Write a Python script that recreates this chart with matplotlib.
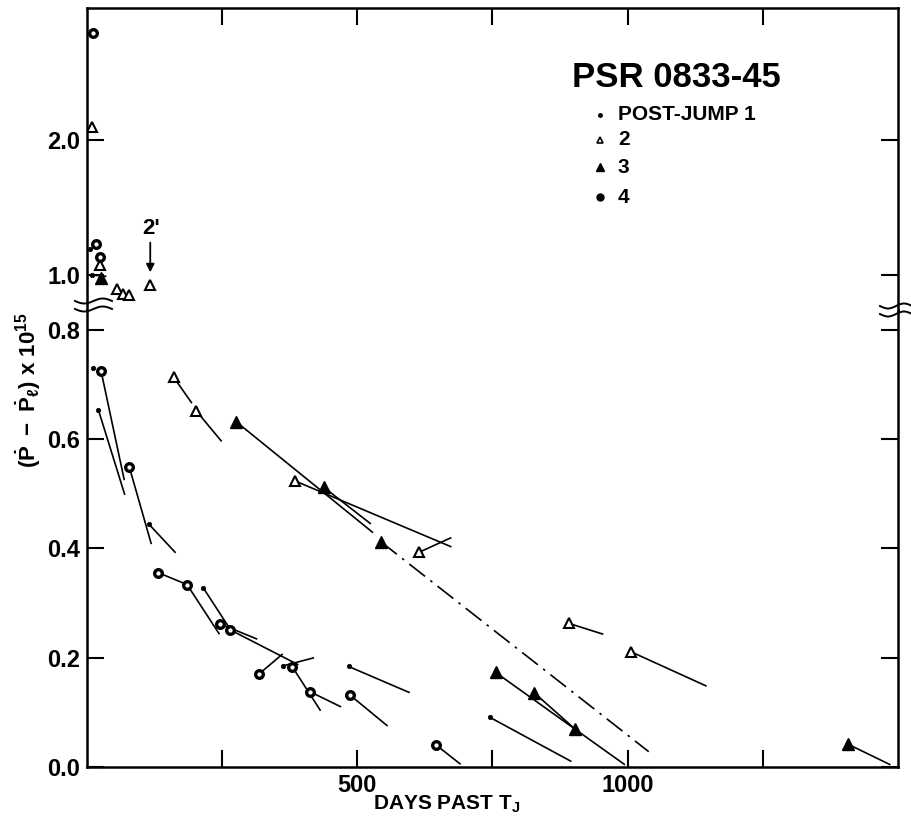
import numpy as np
import matplotlib.pyplot as plt
from matplotlib.lines import Line2D

plt.rcParams['font.family'] = ['Liberation Sans', 'DejaVu Sans']
plt.rcParams['font.weight'] = 'bold'
plt.rcParams['mathtext.fontset'] = 'custom'
plt.rcParams['mathtext.rm'] = 'Liberation Sans:bold'
plt.rcParams['mathtext.it'] = 'Liberation Sans:bold'
plt.rcParams['mathtext.bf'] = 'Liberation Sans:bold'

nan = np.nan

# --- data: days past T_J, (Pdot - Pdot_l) x 1e15, end of fitted slope segment ---
# post-jump 1 (small dots)
j1_x = [10, 6, 10.5, 21, 114, 215, 362, 484, 745]
j1_y = [1.00, 1.19, 0.730, 0.654, 0.445, 0.328, 0.185, 0.184, 0.091]
j1_x_end = [36, nan, nan, 70, 164, 265, 420, 597, 896]
j1_y_end = [0.99, nan, nan, 0.498, 0.392, 0.252, 0.200, 0.136, 0.010]

# post-jump 2 (open triangles)
j2_x = [9, 24, 56, 66, 78, 117, 160, 202, 384, 614, 891, 1006]
j2_y = [2.099, 1.075, 0.894, 0.859, 0.850, 0.926, 0.714, 0.652, 0.524, 0.393, 0.263, 0.211]
j2_x_end = [nan, nan, nan, nan, nan, nan, 194, 249, 674, 674, 955, 1146]
j2_y_end = [nan, nan, nan, nan, nan, nan, 0.666, 0.596, 0.403, 0.420, 0.243, 0.148]

# post-jump 3 (filled triangles)
j3_x = [26, 276, 438, 544, 756, 827, 902, 1407]
j3_y = [0.975, 0.632, 0.512, 0.412, 0.173, 0.136, 0.070, 0.042]
j3_x_end = [nan, 529, 525, nan, 995, 902, nan, 1486]
j3_y_end = [nan, 0.429, 0.445, nan, 0.004, 0.070, nan, 0.004]

# post-jump 3 extrapolation (dash-dot)
j3_extrap_x = [544, 1039]
j3_extrap_y = [0.412, 0.028]

# post-jump 4 (circles)
j4_x = [10.5, 17, 24, 26, 78, 131, 185, 246, 265, 319, 380, 412, 486, 646]
j4_y = [2.795, 1.23, 1.13, 0.725, 0.550, 0.356, 0.334, 0.262, 0.251, 0.171, 0.183, 0.138, 0.132, 0.040]
j4_x_end = [nan, nan, nan, 69, 119, 185, 245, 315, 391, 362, 432, 470, 556, 691]
j4_y_end = [nan, nan, nan, 0.525, 0.408, 0.334, 0.243, 0.234, 0.187, 0.207, 0.103, 0.110, 0.075, 0.005]

# the 2' point
jump2p_x = 117
jump2p_y = 0.926

Y_BREAK = 0.8

styles = {
    'j1': dict(marker='o', ms=3.2, mfc='black', mec='black', mew=0.5),
    'j2': dict(marker='^', ms=6.5, mfc='white', mec='black', mew=1.5),
    'j3': dict(marker='^', ms=8.5, mfc='black', mec='black', mew=1.0),
    'j4': dict(marker='o', ms=5.5, mfc='white', mec='black', mew=2.4),
}
series = [
    ('j1', j1_x, j1_y, j1_x_end, j1_y_end),
    ('j2', j2_x, j2_y, j2_x_end, j2_y_end),
    ('j3', j3_x, j3_y, j3_x_end, j3_y_end),
    ('j4', j4_x, j4_y, j4_x_end, j4_y_end),
]

W, H = 912, 823
fig = plt.figure(figsize=(W / 100, H / 100), dpi=100)
L = 87 / W
AW = (898 - 87) / W
ax_lo = fig.add_axes([L, 1 - 767 / H, AW, (767 - 310) / H])
ax_hi = fig.add_axes([L, 1 - 310 / H, AW, (310 - 8) / H], sharex=ax_lo)

for ax in (ax_lo, ax_hi):
    for name, xs, ys, xe, ye in series:
        xs, ys, xe, ye = map(np.asarray, (xs, ys, xe, ye))
        for a, b, c, d in zip(xs, ys, xe, ye):
            if not np.isnan(c):
                ax.plot([a, c], [b, d], color='black', lw=1.2, solid_capstyle='butt', zorder=2)
        if ax is ax_hi:
            m = ys >= Y_BREAK
        else:
            m = ys < Y_BREAK
        ax.plot(xs[m], ys[m], ls='none', zorder=3, **styles[name])
    for s in ax.spines.values():
        s.set_linewidth(1.8)

ax_lo.plot(j3_extrap_x, j3_extrap_y, color='black', lw=1.2,
           ls=(0, (12, 4, 1.5, 4)), zorder=2)

tick_font = dict(fontsize=17, fontweight='bold')

ax_lo.set_xlim(0, 1500)
ax_lo.set_ylim(0, 0.8366)
ax_hi.set_ylim(0.741, 2.978)

ax_lo.set_xticks([250, 500, 750, 1000, 1250])
ax_lo.set_xticklabels(['', '500', '', '1000', ''], **tick_font)
ax_lo.set_yticks([0.0, 0.2, 0.4, 0.6, 0.8])
ax_lo.set_yticklabels(['0.0', '0.2', '0.4', '0.6', '0.8'], **tick_font)
ax_lo.tick_params(axis='both', direction='in', length=12, width=1.5,
                  right=True, top=False, pad=5)
ax_lo.spines['top'].set_visible(False)

ax_hi.set_yticks([1.0, 2.0])
ax_hi.set_yticklabels(['1.0', '2.0'], **tick_font)
ax_hi.tick_params(axis='both', direction='in', length=12, width=1.5,
                  right=True, top=True, bottom=False, labelbottom=False, pad=5)
ax_hi.spines['bottom'].set_visible(False)

# 2' marker label with arrow
ax_hi.annotate('', xy=(jump2p_x, 1.02), xytext=(jump2p_x, 1.24),
               arrowprops=dict(arrowstyle='-|>', color='black', lw=1.3,
                               mutation_scale=12, shrinkA=0, shrinkB=0))
ax_hi.text(jump2p_x + 2, 1.27, "2'", fontsize=16, fontweight='bold',
           ha='center', va='bottom')

# title and legend
ax_hi.text(0.598, 0.7715, 'PSR 0833-45', transform=ax_hi.transAxes,
           fontsize=25, fontweight='bold', ha='left', va='center')
leg_rows = [
    ('j1', 'POST-JUMP 1', 0.6457, dict(marker='o', ms=2.5, mfc='black', mec='black')),
    ('j2', '2', 0.563, dict(marker='^', ms=5, mfc='white', mec='black', mew=1.2)),
    ('j3', '3', 0.4735, dict(marker='^', ms=6, mfc='black', mec='black')),
    ('j4', '4', 0.374, dict(marker='o', ms=5, mfc='black', mec='black')),
]
for key, label, yy, st in leg_rows:
    ax_hi.plot([0.6326], [yy], transform=ax_hi.transAxes, ls='none', clip_on=False, **st)
    ax_hi.text(0.6547, yy, label, transform=ax_hi.transAxes, fontsize=15,
               fontweight='bold', ha='left', va='center')

# axis labels
fig.text(28 / W, 1 - 390 / H, r'$(\dot{P}\ -\ \dot{P}_{\ell})$ x 10$^{15}$',
         rotation=90, ha='center', va='center', fontsize=16)
fig.text(447 / W, 1 - 804 / H, r'DAYS PAST T$_{J}$', ha='center', va='center',
         fontsize=15, fontweight='bold')

# axis-break marks
def wave(x0, x1, yc):
    t = np.linspace(0, 1, 60)
    xs = x0 + (x1 - x0) * t
    ys = yc + 2.5 * np.sin(2 * np.pi * t)
    return xs / W, 1 - ys / H

for x0, x1, y0 in [(75, 112, 301), (880, 912, 306)]:
    for dy in (0, 8):
        xs, ys = wave(x0, x1, y0 + dy)
        fig.add_artist(Line2D(xs, ys, color='black', lw=1.4, transform=fig.transFigure))

fig.savefig('out.png', dpi=100)
